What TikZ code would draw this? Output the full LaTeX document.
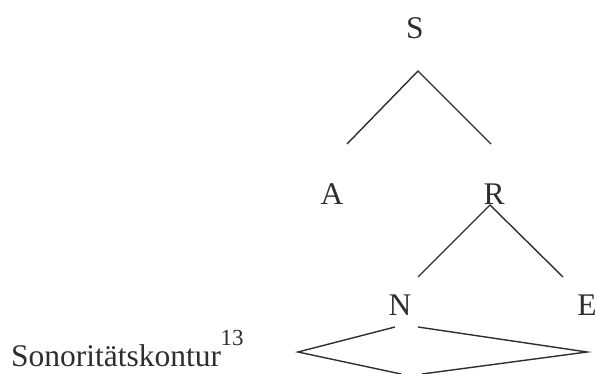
\documentclass[tikz,border=0pt]{standalone}
\usepackage{fontspec}
\setmainfont{Liberation Serif}
\definecolor{ink}{HTML}{2E2E2E}
\begin{document}
\begin{tikzpicture}[x=1pt,y=-1pt,
  lbl/.style={anchor=base,inner sep=0pt,text=ink,font=\fontsize{31.5}{38}\selectfont},
  edge/.style={draw=ink,line width=1.4pt}]
\useasboundingbox (0,0) rectangle (597,374);
% tree labels
\node[lbl] (S) at (415,39) {S};
\node[lbl] (A) at (332,205) {A};
\node[lbl] (R) at (494,205) {R};
\node[lbl] (N) at (400,315) {N};
\node[lbl] (E) at (587,315) {E};
\node[lbl,anchor=base west] (son) at (11,366) {Sonoritätskontur\kern-0.5pt\raisebox{21pt}{\fontsize{23}{24}\selectfont 13}};
% connector points
\coordinate (s0) at (418,71);
\coordinate (sa) at (347,144);
\coordinate (sr) at (491,144);
\coordinate (r0) at (490,205);
\coordinate (rn) at (418,277);
\coordinate (re) at (563,277);
\coordinate (nl) at (395,327);
\coordinate (nr) at (418,327);
\coordinate (dl) at (298,352);
\coordinate (dr) at (587,352);
\coordinate (bl) at (401,374);
\coordinate (br) at (422,374);
\draw[edge] (sa) -- (s0) -- (sr);
\draw[edge] (rn) -- (r0) -- (re);
\draw[edge] (nl) -- (dl) -- (bl);
\draw[edge] (nr) -- (dr) -- (br);
\end{tikzpicture}
\end{document}
